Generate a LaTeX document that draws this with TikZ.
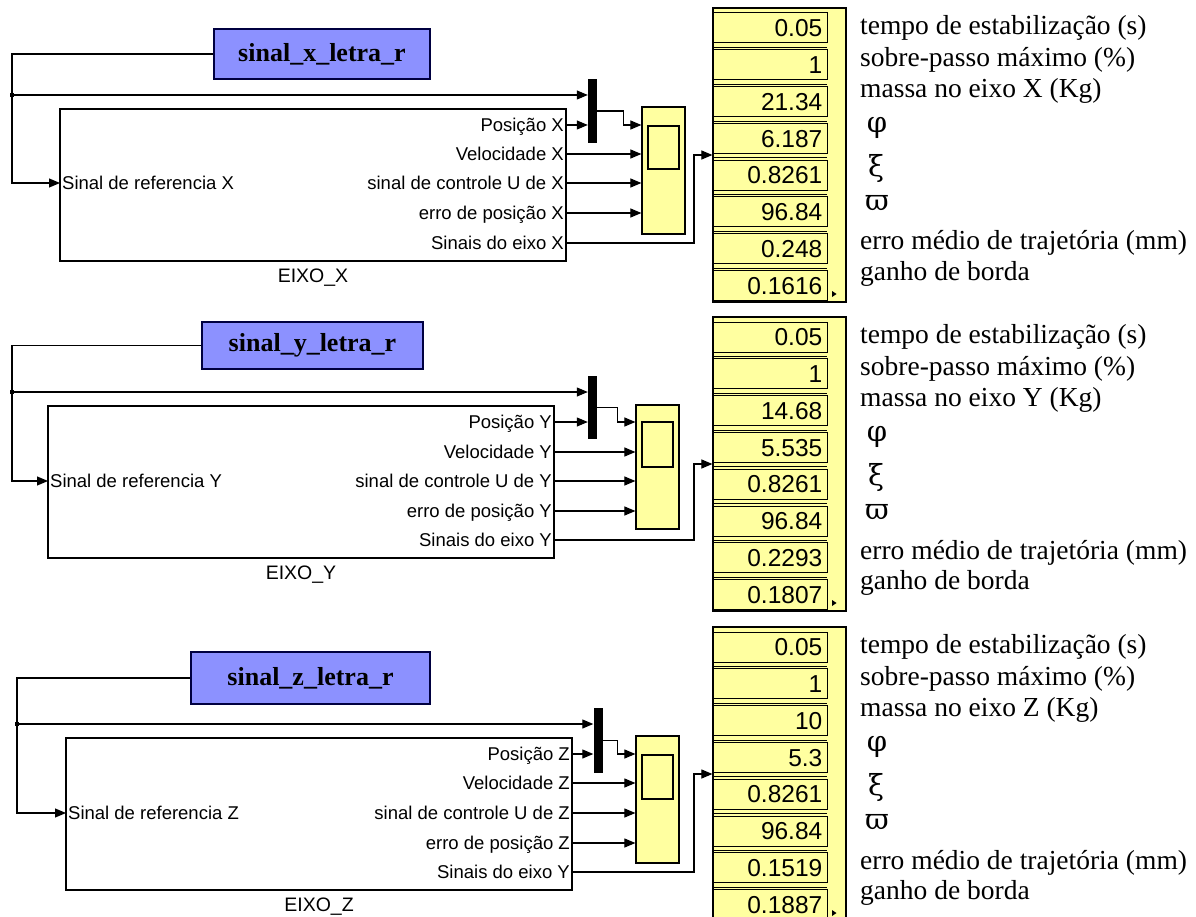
\documentclass[tikz,border=0pt]{standalone}
\usepackage{fontspec}
\setmainfont{Liberation Serif}
\setsansfont{Liberation Sans}
\newfontfamily\greekfam{DejaVu Serif}
\usetikzlibrary{arrows.meta,positioning}
\definecolor{simyellow}{RGB}{255,255,160}
\definecolor{simblue}{RGB}{140,145,255}
\newcommand\portfont{\sffamily\fontsize{18.5}{20}\selectfont}
\newcommand\eixofont{\sffamily\fontsize{19.5}{21}\selectfont}
\newcommand\numfont{\sffamily\fontsize{24.5}{26}\selectfont}
\newcommand\titlefont{\rmfamily\bfseries\fontsize{26}{28}\selectfont}
\newcommand\descfont{\rmfamily\fontsize{27.5}{29}\selectfont}
\newcommand\greekfont{\greekfam\fontsize{29}{30}\selectfont}

\begin{document}
\begin{tikzpicture}[x=1pt,y=-1pt,>={Triangle[length=11pt,width=9pt]},
  wire/.style={line width=1.1pt},
  sig/.style={wire,->},
  srcbox/.style={draw=black!75!blue,line width=1.2pt,fill=simblue,font=\titlefont,inner sep=0pt},
  subsys/.style={draw,line width=1.2pt,inner sep=0pt},
  mux/.style={fill=black,inner sep=0pt,minimum width=9pt},
  scopebox/.style={draw,line width=1.2pt,fill=simyellow,inner sep=0pt,minimum width=43pt},
  screen/.style={draw,line width=1.2pt,fill=simyellow,inner sep=0pt,minimum width=31pt},
  dispbox/.style={draw,line width=1.2pt,fill=simyellow,inner sep=0pt,minimum width=133pt,minimum height=294pt},
  rowbox/.style={draw,line width=1pt,fill=simyellow,inner sep=0pt,minimum width=114pt,minimum height=30pt},
  numtxt/.style={font=\numfont,anchor=east,inner sep=0pt,text height=17.5pt,text depth=0pt},
  inlbl/.style={font=\portfont,anchor=west,inner sep=2pt,text height=13.2pt,text depth=0pt},
  outlbl/.style={font=\portfont,anchor=east,inner sep=2pt,text height=13.2pt,text depth=0pt},
  eixolbl/.style={font=\eixofont,inner sep=0pt,text height=14pt,text depth=0pt},
  desc/.style={font=\descfont,anchor=base west,inner sep=0pt},
  greek/.style={font=\greekfont,inner sep=0pt},
  junction/.style={fill=black,inner sep=0pt,minimum size=3.5pt}]
\useasboundingbox (0,0) rectangle (1196,917);
\clip (0,0) rectangle (1196,917);
\fill[white] (0,0) rectangle (1196,917);

% ---------------- eixo X ----------------
\node[srcbox,minimum width=216pt,minimum height=50pt] (xsrc) at (322,54) {sinal\_x\_letra\_r};
\node[subsys,minimum width=506pt,minimum height=152pt] (xeixo) at (313,185) {};
\node[eixolbl,below=7pt of xeixo] (xeixolbl) {EIXO\_X};
\coordinate (xin) at (60,183);
\coordinate (xo1) at (566,125);
\coordinate (xo2) at (566,154);
\coordinate (xo3) at (566,183);
\coordinate (xo4) at (566,213);
\coordinate (xo5) at (566,243);
\node[inlbl] (xinlbl) at (xin) {Sinal de referencia X};
\node[outlbl] (xo1lbl) at (xo1) {Posição X};
\node[outlbl] (xo2lbl) at (xo2) {Velocidade X};
\node[outlbl] (xo3lbl) at (xo3) {sinal de controle U de X};
\node[outlbl] (xo4lbl) at (xo4) {erro de posição X};
\node[outlbl] (xo5lbl) at (xo5) {Sinais do eixo X};
\node[mux,minimum height=64pt] (xmux) at (592.5,111) {};
\node[scopebox,minimum height=127pt] (xscope) at (663.5,170.5) {};
\node[screen,minimum height=43pt] (xscreen) at (663.5,147.5) {};
\node[dispbox] (xdisp) at (779.5,155) {};
\coordinate (xb) at (12,95);
\node[junction] (xjn) at (xb) {};
\draw[wire] (xsrc.west) -| (xb);
\draw[sig] (xb) |- (xin);
\draw[sig] (xb) -- (xb -| xmux.west);
\draw[sig] (xo1) -- (xo1 -| xmux.west);
\draw[sig] (xmux.east) -- ++(26,0) |- (xscope.west |- xo1);
\draw[sig] (xo2) -- (xo2 -| xscope.west);
\draw[sig] (xo3) -- (xo3 -| xscope.west);
\draw[sig] (xo4) -- (xo4 -| xscope.west);
\draw[sig] (xo5) -- ++(128,0) |- (xdisp.west);

% ---------------- eixo Y ----------------
\node[srcbox,minimum width=221pt,minimum height=47pt] (ysrc) at (312.5,345.5) {sinal\_y\_letra\_r};
\node[subsys,minimum width=506pt,minimum height=152pt] (yeixo) at (301,482) {};
\node[eixolbl,below=7pt of yeixo] (yeixolbl) {EIXO\_Y};
\coordinate (yin) at (48,481);
\coordinate (yo1) at (554,422);
\coordinate (yo2) at (554,452);
\coordinate (yo3) at (554,481);
\coordinate (yo4) at (554,511);
\coordinate (yo5) at (554,540);
\node[inlbl] (yinlbl) at (yin) {Sinal de referencia Y};
\node[outlbl] (yo1lbl) at (yo1) {Posição Y};
\node[outlbl] (yo2lbl) at (yo2) {Velocidade Y};
\node[outlbl] (yo3lbl) at (yo3) {sinal de controle U de Y};
\node[outlbl] (yo4lbl) at (yo4) {erro de posição Y};
\node[outlbl] (yo5lbl) at (yo5) {Sinais do eixo Y};
\node[mux,minimum height=63pt] (ymux) at (592.5,407.5) {};
\node[scopebox,minimum height=124pt] (yscope) at (657.5,467) {};
\node[screen,minimum height=45pt] (yscreen) at (657.5,444.5) {};
\node[dispbox] (ydisp) at (779.5,464) {};
\coordinate (yb) at (12,392);
\node[junction] (yjn) at (yb) {};
\draw[wire] (ysrc.west) -| (yb);
\draw[sig] (yb) |- (yin);
\draw[sig] (yb) -- (yb -| ymux.west);
\draw[sig] (yo1) -- (yo1 -| ymux.west);
\draw[sig] (ymux.east) -- ++(20,0) |- (yscope.west |- yo1);
\draw[sig] (yo2) -- (yo2 -| yscope.west);
\draw[sig] (yo3) -- (yo3 -| yscope.west);
\draw[sig] (yo4) -- (yo4 -| yscope.west);
\draw[sig] (yo5) -- ++(140,0) |- (ydisp.west);

% ---------------- eixo Z ----------------
\node[srcbox,minimum width=239pt,minimum height=52pt] (zsrc) at (310.5,678) {sinal\_z\_letra\_r};
\node[subsys,minimum width=506pt,minimum height=152pt] (zeixo) at (319,814) {};
\node[eixolbl,below=7pt of zeixo] (zeixolbl) {EIXO\_Z};
\coordinate (zin) at (66,813);
\coordinate (zo1) at (572,754);
\coordinate (zo2) at (572,783);
\coordinate (zo3) at (572,813);
\coordinate (zo4) at (572,843);
\coordinate (zo5) at (572,872);
\node[inlbl] (zinlbl) at (zin) {Sinal de referencia Z};
\node[outlbl] (zo1lbl) at (zo1) {Posição Z};
\node[outlbl] (zo2lbl) at (zo2) {Velocidade Z};
\node[outlbl] (zo3lbl) at (zo3) {sinal de controle U de Z};
\node[outlbl] (zo4lbl) at (zo4) {erro de posição Z};
\node[outlbl] (zo5lbl) at (zo5) {Sinais do eixo Y};
\node[mux,minimum height=65pt] (zmux) at (598,740.5) {};
\node[scopebox,minimum height=127pt] (zscope) at (657.5,799.5) {};
\node[screen,minimum height=44pt] (zscreen) at (657.5,777) {};
\node[dispbox] (zdisp) at (779.5,774) {};
\coordinate (zb) at (17,724);
\node[junction] (zjn) at (zb) {};
\draw[wire] (zsrc.west) -| (zb);
\draw[sig] (zb) |- (zin);
\draw[sig] (zb) -- (zb -| zmux.west);
\draw[sig] (zo1) -- (zo1 -| zmux.west);
\draw[sig] (zmux.east) -- ++(15,0) |- (zscope.west |- zo1);
\draw[sig] (zo2) -- (zo2 -| zscope.west);
\draw[sig] (zo3) -- (zo3 -| zscope.west);
\draw[sig] (zo4) -- (zo4 -| zscope.west);
\draw[sig] (zo5) -- ++(122,0) |- (zdisp.west);

% displays and their legends
\foreach \a/\A/\o/\vals in {x/X/0/{0.05,1,21.34,6.187,0.8261,96.84,0.248,0.1616},
                            y/Y/309/{0.05,1,14.68,5.535,0.8261,96.84,0.2293,0.1807},
                            z/Z/619/{0.05,1,10,5.3,0.8261,96.84,0.1519,0.1887}} {
  \foreach \v [count=\i from 0] in \vals {
    \node[rowbox] (\a-r\i) at (770,{\o+28+36.8*\i}) {};
    \node[numtxt] (\a-v\i) at ([xshift=-5pt]\a-r\i.east) {\v};
  }
  \foreach \i in {1,...,7}
    \draw[wire] (713,{\o+10.7+36.8*\i}) -- ++(114,0);
  \fill (832,{\o+291}) -- ++(4.5,3) -- ++(-4.5,3) -- cycle;
  \node[desc] (\a-d1) at (860,{\o+34.5}) {tempo de estabilização (s)};
  \node[desc] (\a-d2) at (860,{\o+66.7}) {sobre-passo máximo (\%)};
  \node[desc] (\a-d3) at (860,{\o+97.3}) {massa no eixo \A\ (Kg)};
  \node[greek] (\a-g1) at (877,{\o+127.5}) {φ};
  \node[greek] (\a-g2) at (876,{\o+168.5}) {ξ};
  \node[greek] (\a-g3) at (877,{\o+203}) {ϖ};
  \node[desc] (\a-d4) at (860,{\o+250}) {erro médio de trajetória (mm)};
  \node[desc] (\a-d5) at (860,{\o+280}) {ganho de borda};
}
\end{tikzpicture}
\end{document}
